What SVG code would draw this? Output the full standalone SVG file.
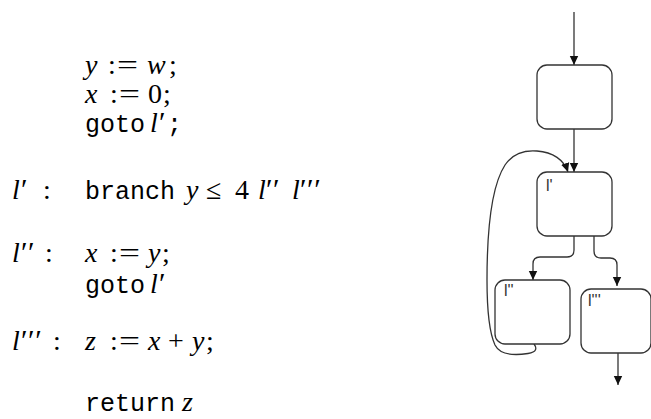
<svg xmlns="http://www.w3.org/2000/svg" width="651" height="419" viewBox="0 0 651 419">
<style>
.mi{font-family:"Liberation Serif",serif;font-style:italic;font-size:28px;fill:#000}
.rm{font-family:"Liberation Serif",serif;font-size:28px;fill:#000}
.pr{font-family:"Liberation Serif",serif;font-size:30px;fill:#000;letter-spacing:0.5px}
.tt{font-family:"Liberation Mono",monospace;font-size:25px;fill:#000}
.box{fill:#fff;stroke:#333;stroke-width:1.3}
.lbl{font-family:"Liberation Sans",sans-serif;font-size:16px;fill:#333}
.edge{fill:none;stroke:#333;stroke-width:1.3}
</style>
<defs>
<marker id="ah" markerUnits="userSpaceOnUse" markerWidth="10" markerHeight="10" refX="9" refY="5" orient="auto">
<path d="M0,0.8 L9,5 L0,9.2 z" fill="#111"/>
</marker>
</defs>
<rect width="651" height="419" fill="#fff"/>
<g id="program">
<text class="mi" x="85" y="74">y</text><text class="rm" x="108" y="74">:</text><text class="rm" x="117" y="74" textLength="21" lengthAdjust="spacingAndGlyphs">=</text><text class="mi" x="147" y="74">w</text><text class="rm" x="169" y="74">;</text>
<text class="mi" x="85" y="103">x</text><text class="rm" x="110" y="103">:</text><text class="rm" x="119" y="103" textLength="21" lengthAdjust="spacingAndGlyphs">=</text><text class="rm" x="148" y="103">0</text><text class="rm" x="163" y="103">;</text>
<text class="tt" x="85" y="132">goto</text><text class="mi" x="150" y="132">l</text><text class="pr" x="159" y="132">′</text><text class="tt" x="167" y="132">;</text>
<text class="mi" x="12" y="199">l</text><text class="pr" x="21" y="199">′</text><text class="rm" x="43" y="199">:</text>
<text class="tt" x="85" y="199">branch</text><text class="mi" x="186" y="199">y</text><text class="rm" x="206" y="199">≤</text><text class="rm" x="235" y="199">4</text><text class="mi" x="258" y="199">l</text><text class="pr" x="266" y="199">′′</text><text class="mi" x="292" y="199">l</text><text class="pr" x="300" y="199">′′′</text>
<text class="mi" x="12" y="262">l</text><text class="pr" x="21" y="262">′′</text><text class="rm" x="45" y="262">:</text>
<text class="mi" x="85" y="262">x</text><text class="rm" x="110" y="262">:</text><text class="rm" x="119" y="262" textLength="21" lengthAdjust="spacingAndGlyphs">=</text><text class="mi" x="148" y="262">y</text><text class="rm" x="162" y="262">;</text>
<text class="tt" x="85" y="293">goto</text><text class="mi" x="150" y="293">l</text><text class="pr" x="159" y="293">′</text>
<text class="mi" x="12" y="350">l</text><text class="pr" x="21" y="350">′′′</text><text class="rm" x="53" y="350">:</text>
<text class="mi" x="85" y="350">z</text><text class="rm" x="110" y="350">:</text><text class="rm" x="119" y="350" textLength="21" lengthAdjust="spacingAndGlyphs">=</text><text class="mi" x="148" y="350">x</text><text class="rm" x="168" y="350">+</text><text class="mi" x="192" y="350">y</text><text class="rm" x="206" y="350">;</text>
<text class="tt" x="85" y="411">return</text><text class="mi" x="182" y="411">z</text>
</g>
<g id="connectors">
<path class="edge" d="M574,12 L574,65" marker-end="url(#ah)"/>
<path class="edge" d="M574,129 L574,172" marker-end="url(#ah)"/>
<path class="edge" d="M574,236 L574,250 Q574,257 567,257 L540,257 Q533,257 533,264 L533,280" marker-end="url(#ah)"/>
<path class="edge" d="M594,236 L594,251 Q594,258 601,258 L610,258 Q617,258 617,265 L617,286" marker-end="url(#ah)"/>
<path class="edge" d="M618,353 L618,385" marker-end="url(#ah)"/>
<path class="edge" d="M534,344 C537,348 537,352 528,353.5 C515,355.5 500,355 495,345 C489,332 487,310 487,280 C487,230 492,185 505,165 C513,153 525,150 537,151 C553,152 564,160 568,172" marker-end="url(#ah)"/>
</g>
<g id="node-entry"><rect class="box" x="537" y="65" width="75" height="64" rx="10"/></g>
<g id="node-l1"><rect class="box" x="537" y="172" width="75" height="64" rx="10"/><text class="lbl" x="546" y="191">l'</text></g>
<g id="node-l2"><rect class="box" x="495" y="280" width="75" height="64" rx="10"/><text class="lbl" x="504" y="296">l''</text></g>
<g id="node-l3"><rect class="box" x="581" y="289" width="70" height="64" rx="10"/><text class="lbl" x="588" y="306">l'''</text></g>
</svg>
